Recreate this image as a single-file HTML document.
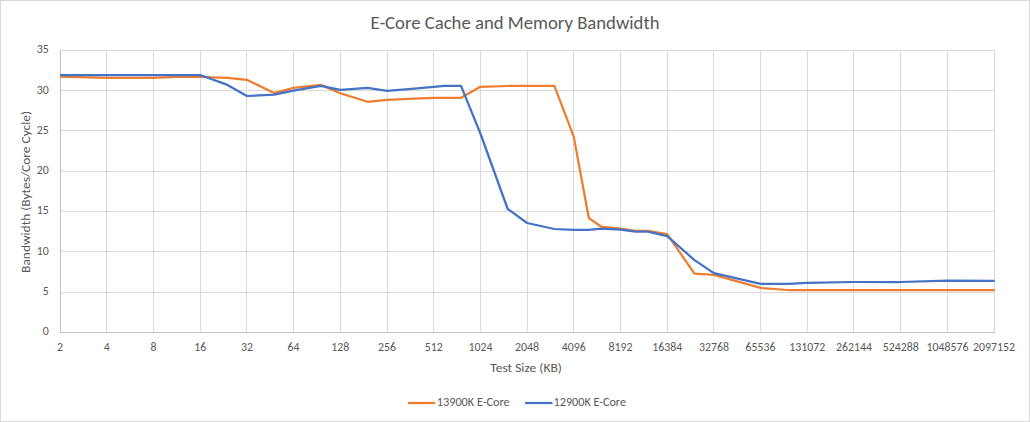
<!DOCTYPE html>
<html><head><meta charset="utf-8"><title>E-Core Cache and Memory Bandwidth</title>
<style>html,body{margin:0;padding:0;background:#fff;}svg{display:block;}</style>
</head><body><svg width="1030" height="422" viewBox="0 0 1030 422"><rect x="0.5" y="0.5" width="1029" height="421" fill="#fff" stroke="#d9d9d9" stroke-width="1"/><path d="M60 50.5H995 M60 90.5H995 M60 130.5H995 M60 171.5H995 M60 211.5H995 M60 251.5H995 M60 292.5H995 M106.5 50V333 M153.5 50V333 M200.5 50V333 M246.5 50V333 M293.5 50V333 M340.5 50V333 M387.5 50V333 M433.5 50V333 M480.5 50V333 M527.5 50V333 M573.5 50V333 M620.5 50V333 M667.5 50V333 M713.5 50V333 M760.5 50V333 M807.5 50V333 M853.5 50V333 M900.5 50V333 M947.5 50V333 M994.5 50V333" stroke="#d9d9d9" stroke-width="1" fill="none"/><path d="M60.5 50V333M60 332.5H995" stroke="#bfbfbf" stroke-width="1" fill="none"/><polyline points="60.1,76.7 106.8,77.9 153.5,77.9 180.8,76.6 200.2,76.8 227.5,77.8 246.9,79.8 274.2,93.0 293.6,87.8 320.9,84.9 340.3,93.2 367.6,101.8 387.0,99.8 414.3,98.7 433.7,97.9 444.4,97.8 461.0,97.8 480.4,86.8 507.7,86.0 527.1,85.8 554.4,85.9 573.8,136.9 588.8,218.0 601.1,226.7 620.5,228.6 635.5,230.9 647.8,230.8 667.2,234.1 694.5,273.7 713.9,274.9 760.6,287.9 787.9,290.0 807.3,290.0 854.0,290.0 900.7,290.0 947.4,290.0 994.7,290.0" fill="none" stroke="#ED7D31" stroke-width="2.25" stroke-linejoin="round" stroke-linecap="butt"/><polyline points="60.1,75.0 106.8,75.0 153.5,75.0 180.8,75.0 200.2,75.0 227.5,84.9 246.9,96.0 274.2,94.7 293.6,90.7 320.9,85.9 340.3,89.9 367.6,87.9 387.0,90.9 414.3,88.6 433.7,86.9 444.4,85.8 461.0,85.8 480.4,133.5 507.7,209.0 527.1,223.0 554.4,229.0 573.8,229.9 588.8,229.9 601.1,228.6 620.5,229.6 635.5,231.6 647.8,231.6 667.2,236.1 694.5,260.1 713.9,273.1 760.6,283.8 787.9,283.8 807.3,282.9 854.0,282.0 900.7,282.0 947.4,280.7 994.7,280.9" fill="none" stroke="#4472C4" stroke-width="2.25" stroke-linejoin="round" stroke-linecap="butt"/><g font-family='Carlito, "Liberation Sans", sans-serif' font-size="12" fill="#595959"><text x="48.8" y="52.7" text-anchor="end" textLength="12.0" lengthAdjust="spacingAndGlyphs">35</text><text x="48.8" y="93.7" text-anchor="end" textLength="12.0" lengthAdjust="spacingAndGlyphs">30</text><text x="48.8" y="133.7" text-anchor="end" textLength="12.0" lengthAdjust="spacingAndGlyphs">25</text><text x="48.8" y="173.7" text-anchor="end" textLength="12.0" lengthAdjust="spacingAndGlyphs">20</text><text x="48.8" y="213.7" text-anchor="end" textLength="12.0" lengthAdjust="spacingAndGlyphs">15</text><text x="48.8" y="254.7" text-anchor="end" textLength="12.0" lengthAdjust="spacingAndGlyphs">10</text><text x="48.8" y="294.7" text-anchor="end" textLength="6.0" lengthAdjust="spacingAndGlyphs">5</text><text x="48.8" y="334.7" text-anchor="end" textLength="6.0" lengthAdjust="spacingAndGlyphs">0</text><text x="60.1" y="351" text-anchor="middle" textLength="6.0" lengthAdjust="spacingAndGlyphs">2</text><text x="106.8" y="351" text-anchor="middle" textLength="6.0" lengthAdjust="spacingAndGlyphs">4</text><text x="153.5" y="351" text-anchor="middle" textLength="6.0" lengthAdjust="spacingAndGlyphs">8</text><text x="200.2" y="351" text-anchor="middle" textLength="12.0" lengthAdjust="spacingAndGlyphs">16</text><text x="246.9" y="351" text-anchor="middle" textLength="12.0" lengthAdjust="spacingAndGlyphs">32</text><text x="293.6" y="351" text-anchor="middle" textLength="12.0" lengthAdjust="spacingAndGlyphs">64</text><text x="340.3" y="351" text-anchor="middle" textLength="18.0" lengthAdjust="spacingAndGlyphs">128</text><text x="387.0" y="351" text-anchor="middle" textLength="18.0" lengthAdjust="spacingAndGlyphs">256</text><text x="433.7" y="351" text-anchor="middle" textLength="18.0" lengthAdjust="spacingAndGlyphs">512</text><text x="480.4" y="351" text-anchor="middle" textLength="24.0" lengthAdjust="spacingAndGlyphs">1024</text><text x="527.1" y="351" text-anchor="middle" textLength="24.0" lengthAdjust="spacingAndGlyphs">2048</text><text x="573.8" y="351" text-anchor="middle" textLength="24.0" lengthAdjust="spacingAndGlyphs">4096</text><text x="620.5" y="351" text-anchor="middle" textLength="24.0" lengthAdjust="spacingAndGlyphs">8192</text><text x="667.2" y="351" text-anchor="middle" textLength="30.0" lengthAdjust="spacingAndGlyphs">16384</text><text x="713.9" y="351" text-anchor="middle" textLength="30.0" lengthAdjust="spacingAndGlyphs">32768</text><text x="760.6" y="351" text-anchor="middle" textLength="30.0" lengthAdjust="spacingAndGlyphs">65536</text><text x="807.3" y="351" text-anchor="middle" textLength="36.0" lengthAdjust="spacingAndGlyphs">131072</text><text x="854.0" y="351" text-anchor="middle" textLength="36.0" lengthAdjust="spacingAndGlyphs">262144</text><text x="900.7" y="351" text-anchor="middle" textLength="36.0" lengthAdjust="spacingAndGlyphs">524288</text><text x="947.4" y="351" text-anchor="middle" textLength="42.0" lengthAdjust="spacingAndGlyphs">1048576</text><text x="994.1" y="351" text-anchor="middle" textLength="42.0" lengthAdjust="spacingAndGlyphs">2097152</text></g><text x="515" y="29" text-anchor="middle" font-family='Carlito, "Liberation Sans", sans-serif' font-size="18.667" textLength="289" lengthAdjust="spacingAndGlyphs" fill="#595959">E-Core Cache and Memory Bandwidth</text><text x="526.1" y="372" text-anchor="middle" font-family='Carlito, "Liberation Sans", sans-serif' font-size="12.5" textLength="71.7" lengthAdjust="spacingAndGlyphs" fill="#595959">Test Size (KB)</text><text transform="translate(30,191.9) rotate(-90)" x="0" y="0" text-anchor="middle" font-family='Carlito, "Liberation Sans", sans-serif' font-size="12.5" textLength="162" lengthAdjust="spacingAndGlyphs" fill="#595959">Bandwidth (Bytes/Core Cycle)</text><path d="M408 403H435" stroke="#ED7D31" stroke-width="2.25"/><path d="M525 403H552.5" stroke="#4472C4" stroke-width="2.25"/><g font-family='Carlito, "Liberation Sans", sans-serif' font-size="12" fill="#595959"><text x="436.8" y="406" textLength="72.8" lengthAdjust="spacingAndGlyphs">13900K E-Core</text><text x="553.6" y="406" textLength="72.4" lengthAdjust="spacingAndGlyphs">12900K E-Core</text></g></svg></body></html>
